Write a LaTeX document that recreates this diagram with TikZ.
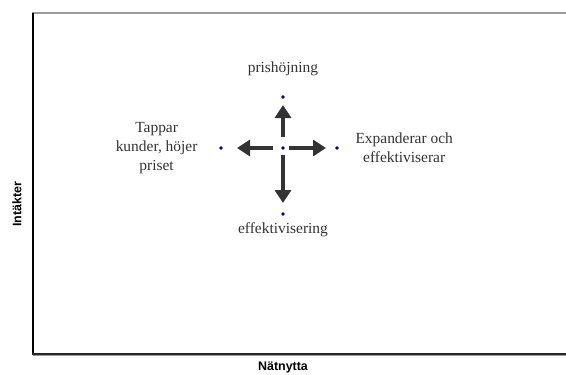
\documentclass[tikz,border=0pt]{standalone}
\usepackage{fontspec}
\setmainfont{Liberation Serif}
\setsansfont{Liberation Sans}
\usetikzlibrary{arrows.meta, positioning}
\definecolor{arrowgray}{HTML}{333333}
\definecolor{dotblue}{HTML}{000080}
\definecolor{framegray}{HTML}{9A9A9A}

\begin{document}
\begin{tikzpicture}[x=1bp, y=-1bp,
  every node/.style={font=\fontsize{15.5}{19}\selectfont, text=black!80},
  move/.style={-{Triangle[length=13bp, width=16bp]}, line width=4bp, arrowgray},
  dot/.style={circle, fill=dotblue, inner sep=0pt, minimum size=3.6bp},
  choice/.style={align=center},
  axislabel/.style={font=\fontsize{12.5}{15}\selectfont\sffamily\bfseries, text=black}
]
\useasboundingbox (0,0) rectangle (566,374);

% plot frame
\draw[framegray, line width=1.6bp] (32,13) -- (566,13);
\draw[black, line width=1.4bp] (33,13) -- (33,354);
\draw[framegray, line width=1.6bp] (33,355.6) -- (566,355.6);
\draw[black!85, line width=1.4bp] (32.3,354) -- (566,354);

% position and the four moves
\node[dot] (ctr) at (283,148) {};
\node[dot] (pup) at (283,97) {};
\node[dot] (pleft) at (221,148) {};
\node[dot] (pright) at (337,148) {};
\node[dot] (pdown) at (283,214) {};

\draw[move, shorten <=9bp, shorten >=6bp] (ctr) -- (pup);
\draw[move, shorten <=8bp, shorten >=14bp] (ctr) -- (pleft);
\draw[move, shorten <=4bp, shorten >=9bp] (ctr) -- (pright);
\draw[move, shorten <=5bp, shorten >=9bp] (ctr) -- (pdown);

% labels of the moves
\node[choice, above=16bp of pup] (lup) {prishöjning};
\node[choice, left=18bp of pleft] (lleft) {Tappar\\kunder, höjer\\priset};
\node[choice, right=13bp of pright] (lright) {Expanderar och\\effektiviserar};
\node[choice, below=3bp of pdown] (ldown) {effektivisering};

% axis titles
\node[axislabel] (xtitle) at (283,367) {Nätnytta};
\node[axislabel, rotate=90] (ytitle) at (17,204) {Intäkter};

\end{tikzpicture}
\end{document}
